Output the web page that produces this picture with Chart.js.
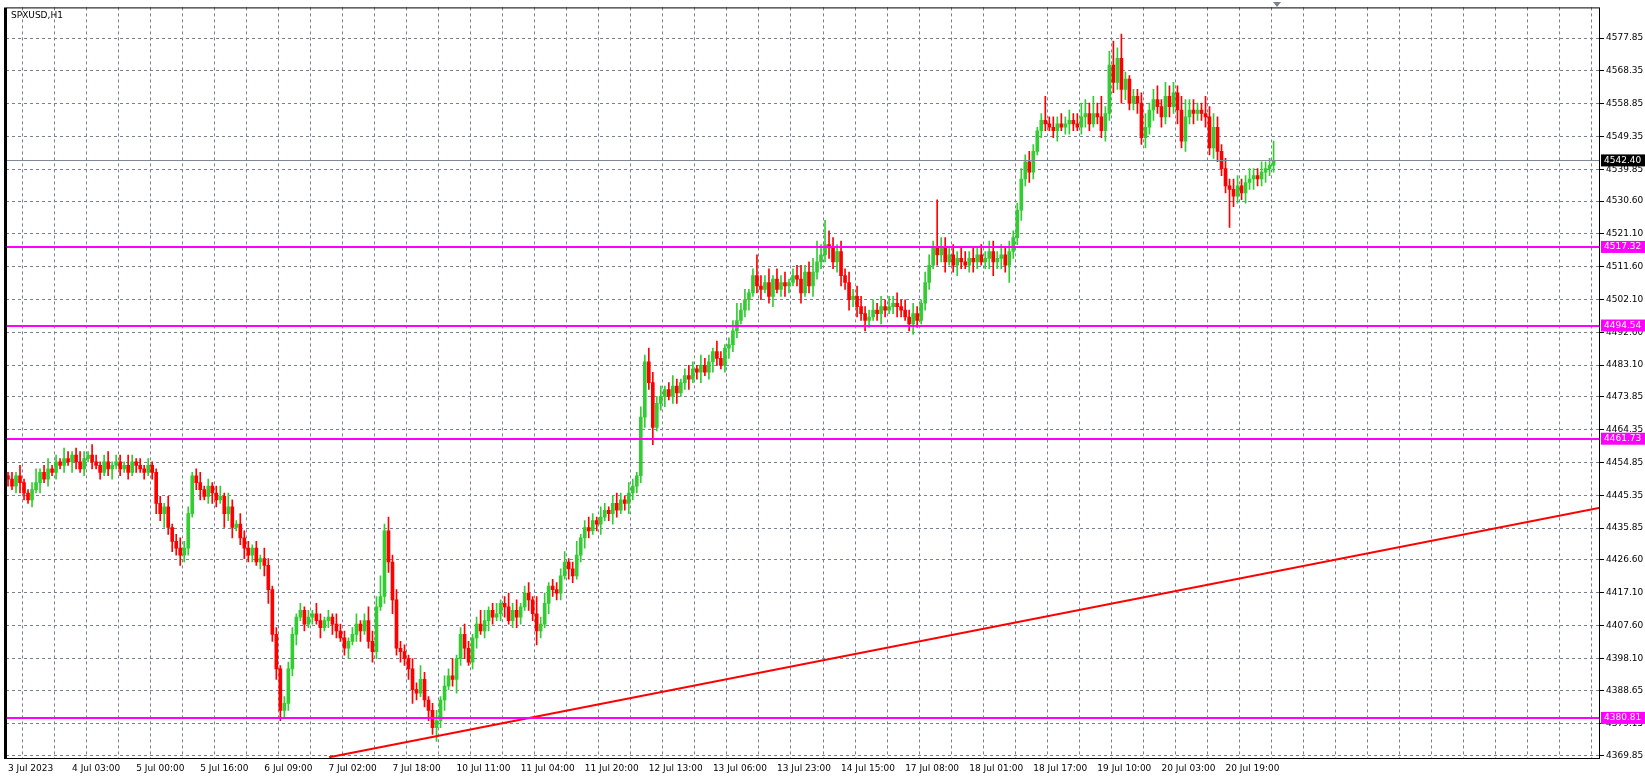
<!DOCTYPE html>
<html><head><meta charset="utf-8">
<script src="https://cdn.jsdelivr.net/npm/chart.js@4.4.0/dist/chart.umd.min.js"></script>
<style>html,body{margin:0;padding:0;background:#fff;}#wrap{width:1645px;height:779px;position:relative;}</style>
</head><body><div id="wrap"><canvas id="c" width="1645" height="779"></canvas></div>
<script>
const symbol = "SPXUSD,H1";
const firstOpen = 4451;
const closes = [4450,4448,4451,4449,4446,4444,4447,4449,4452,4450,4453,4452,4455,
4454,4456,4455,4457,4455,4453,4456,4457,4455,4454,4452,4455,4453,4454,4455,4453,4454,4452,4455,4454,4453,4452,4454,4452,
4443,4440,4442,4436,4432,4430,4428,4430,
4440,4451,4449,4447,4445,4448,4446,4444,4445,4440,4442,4436,4437,4433,4430,4428,
4430,4426,4427,4425,4418,4405,4395,4383,4385,4395,
4405,4410,4412,4408,4410,4411,4409,4407,4409,4410,4408,4406,4404,4401,4403,4405,4408,4406,4409,4403,4400,
4413,4416,4435,4426,4415,4401,4400,
4398,4395,4389,4388,4392,4386,4383,4378,4380,
4386,4390,4393,4392,4398,4405,4401,4397,4404,4408,4406,4409,4412,4410,
4411,4414,4413,4409,4412,4410,4413,4417,4415,4411,4406,4408,4414,4419,4418,4417,
4422,4426,4424,4422,4428,4433,4436,4435,4438,4437,4439,4441,4440,4443,4441,4444,4443,4446,4448,4451,
4468,4484,4478,4465,4472,4474,4476,4474,4477,4475,4478,4480,4479,4482,4481,4483,4481,4484,4487,4485,4483,4488,4489,4493,
4496,4499,4502,4504,4509,4506,4505,4507,4503,4508,4505,4507,4506,4507,4509,4508,4504,4510,4506,4510,4513,
4515,4518,4517,4513,4516,4509,4507,4502,4503,4500,4498,4496,
4497,4499,4498,4500,4499,4500,4501,4500,4499,4497,4495,4498,4496,4501,4507,
4512,4517,4515,4517,4513,4515,4512,4514,4513,4512,4514,4513,4515,4513,4514,4516,4513,4514,4515,4512,4516,4520,
4528,4537,4542,4539,4545,4551,4554,
4553,4552,4551,4553,4552,4553,4554,4553,4552,4555,4556,4553,4556,4555,
4551,4556,4570,4565,4572,4563,4566,4559,4561,
4559,4549,4552,4557,4560,4558,4555,4561,4558,4562,4557,4548,4555,4557,4556,4557,
4556,4555,4546,4552,4545,4540,4535,4534,4532,4535,4533,4536,4537,4538,4537,4539,4540,4541,4542.4];
const upWick = [1,2,1,3,1,1,2,4,1,2,3,1,2,1,3,2,1,2,3,2,1,3,2,1,2,3,1,2,2,1,3,2,1,2,1,2,1,
1,2,1,3,1,2,3,2, 2,1,2,3,1,2,1,2,3,1,4,2,1,3,2,2, 1,2,1,3,2,1,2,1,2,2,
2,1,2,1,2,1,3,2,1,2,1,3,2,2,1,2,3,1,2,4,3, 3,6,2,4,2,3,2, 2,1,3,2,4,2,1,2,3,
1,3,2,5,1,2,3,2,1,2,4,3,1,2, 3,1,2,4,2,3,1,2,3,1,5,2,3,1,2,2,
2,3,1,2,4,1,2,3,2,1,3,2,1,2,3,2,1,3,2,1,
3,2,4,3,2,3,1,2,3,2,1,2,3,2,1,3,2,2,1,3,2,1,2,3,
5,2,3,1,2,6,3,2,4,1,3,2,3,1,2,3,4,2,3,4,6,
3,7,4,3,2,3,2,3,2,3,3,2, 2,3,2,3,2,3,2,3,2,3,2,3,2,1,3,
3,2,14,3,3,2,3,2,3,3,2,3,2,3,2,3,3,2,3,2,3,2,
2,3,2,3,2,1,2, 7,2,3,2,3,2,3,2,3,4,4,3,5,3,
6,2,4,7,3,7,2,1,2, 2,3,4,2,3,4,2,4,3,3,2,4,5,3,3,2,
2,5,3,4,3,2,3,2,3,3,2,2,3,2,2,3,2,2,5.6];
const dnWick = [2,1,2,3,2,1,2,1,3,1,2,1,2,1,2,1,3,2,1,2,1,2,1,2,1,2,3,1,2,1,2,1,2,1,2,1,2,
3,2,4,2,3,2,3,2, 2,1,2,3,1,2,3,2,1,4,2,3,1,2,3,2, 2,1,2,3,4,2,3,3,2,2,
2,3,1,2,1,2,1,3,1,2,3,2,1,2,3,1,2,3,1,2,3, 2,1,2,3,4,2,3, 2,3,4,2,1,2,3,2,4,
2,3,1,2,4,2,3,1,2,3,1,2,3,2, 1,2,3,1,2,3,2,1,3,2,4,2,1,3,2,2,
2,1,3,2,1,2,3,2,1,2,3,1,2,3,2,1,2,3,2,2,
2,3,2,5,1,2,3,1,2,3,1,2,3,1,2,3,1,2,3,2,1,2,3,2,
2,1,2,3,1,2,3,1,2,3,1,2,3,2,1,2,3,1,2,3,2,
2,2,3,2,3,3,2,3,2,3,2,3, 2,1,2,3,2,1,2,3,2,1,2,3,2,1,2,
2,1,3,2,3,1,2,3,2,1,2,3,2,1,2,3,4,2,3,2,5,2,
2,3,2,3,2,1,2, 2,1,2,3,1,2,3,2,1,2,3,2,1,2,
2,3,2,3,2,4,3,2,2, 3,2,3,2,3,2,3,2,3,2,4,2,3,2,3,2,
2,3,2,3,3,2,2,11,3,2,2,3,2,3,2,2,3,2,2];
const timeLabels = ["3 Jul 2023","4 Jul 03:00","5 Jul 00:00","5 Jul 16:00","6 Jul 09:00","7 Jul 02:00","7 Jul 18:00","10 Jul 11:00","11 Jul 04:00","11 Jul 20:00","12 Jul 13:00","13 Jul 06:00","13 Jul 23:00","14 Jul 15:00","17 Jul 08:00","18 Jul 01:00","18 Jul 17:00","19 Jul 10:00","20 Jul 03:00","20 Jul 19:00"];
const priceTicks = [4577.85,4568.35,4558.85,4549.35,4539.85,4530.60,4521.10,4511.60,4502.10,4492.60,4483.10,4473.85,4464.35,4454.85,4445.35,4435.85,4426.60,4417.10,4407.60,4398.10,4388.65,4379.15,4369.85];
const levels = [4517.32,4494.54,4461.73,4380.81];
const lastPrice = 4542.40;
const trendX = [80.2,397.5];
const trendY = [4369.4,4441.7];

const N = 398;
const opens = closes.map((c,i)=> i===0 ? firstOpen : closes[i-1]);
const wicks=[], bodies=[], colors=[];
closes.forEach((c,i)=>{
  const o=opens[i];
  const hi=Math.max(o,c)+upWick[i], lo=Math.min(o,c)-dnWick[i];
  wicks.push({x:i,y:[lo,hi]});
  bodies.push({x:i,y: o===c?[o-0.15,c+0.15]:[o,c]});
  colors.push(c>o?'#32CD32':(c<o?'#FF0000':'#7CFC00'));
});
const gridX=[]; for(let k=0;k<50;k++) gridX.push(7.5+8*k);
const labelX = timeLabels.map((t,i)=>i*16);

const font = {family:'"DejaVu Sans", sans-serif', size:9};
const overlay = {
  id:'overlay',
  afterDatasetsDraw(ch){
    const {ctx,chartArea:a,scales:{y}}=ch;
    ctx.save();
    ctx.strokeStyle='#808896'; ctx.lineWidth=1;
    const ly=Math.round(y.getPixelForValue(lastPrice))+0.5;
    ctx.beginPath(); ctx.moveTo(a.left,ly); ctx.lineTo(a.right,ly); ctx.stroke();
    ctx.strokeStyle='#FF00FF'; ctx.lineWidth=2;
    levels.forEach(v=>{const py=Math.round(y.getPixelForValue(v));ctx.beginPath();ctx.moveTo(a.left,py);ctx.lineTo(a.right,py);ctx.stroke();});
    ctx.strokeStyle='#000'; ctx.lineWidth=1;
    ctx.strokeRect(a.left+0.5,a.top+0.5,a.width-1,a.height-1);
    ctx.lineWidth=2; ctx.beginPath(); ctx.moveTo(a.left-1,a.top); ctx.lineTo(a.left-1,a.bottom); ctx.stroke();
    ctx.font='9px "DejaVu Sans", sans-serif'; ctx.textBaseline='middle';
    const box=(v,bg)=>{const py=y.getPixelForValue(v);ctx.fillStyle=bg;ctx.fillRect(a.right+1,py-6,44,12);ctx.fillStyle='#fff';ctx.fillText(v.toFixed(2),a.right+4,py);};
    levels.forEach(v=>box(v,'#FF00FF'));
    box(lastPrice,'#000');
    ctx.fillStyle='#000'; ctx.textBaseline='top'; ctx.fillText(symbol,a.left+5,a.top+4);
    ctx.fillStyle='#7a8290'; ctx.beginPath(); ctx.moveTo(1273,2); ctx.lineTo(1281,2); ctx.lineTo(1277,7); ctx.fill();
    ctx.restore();
  }
};
new Chart(document.getElementById('c'),{
  data:{datasets:[
    {type:'line',data:trendX.map((x,i)=>({x,y:trendY[i]})),borderColor:'#FF0000',borderWidth:2,pointRadius:0,order:0},
    {type:'bar',data:wicks,backgroundColor:colors,barThickness:1,grouped:false,order:2},
    {type:'bar',data:bodies,backgroundColor:colors,barThickness:3,grouped:false,order:1}
  ]},
  options:{responsive:false,animation:false,devicePixelRatio:1,
    layout:{padding:{left:6,top:4,right:0,bottom:4}},
    plugins:{legend:{display:false},tooltip:{enabled:false}},
    scales:{
      x:{type:'linear',min:-0.5,max:N-0.5,offset:false,
        afterBuildTicks:s=>{s.ticks=gridX.map(v=>({value:v}));},
        grid:{color:'#76808e',lineWidth:1,drawTicks:false},
        border:{display:false,dash:[3,3]},
        ticks:{display:false}},
      x2:{type:'linear',position:'bottom',min:-0.5,max:N-0.5,
        afterBuildTicks:s=>{s.ticks=labelX.map(v=>({value:v}));},
        afterFit:s=>{s.height=16;},
        grid:{display:false,drawOnChartArea:false,drawTicks:true,tickLength:3,color:'#000'},
        border:{display:false},
        ticks:{align:'start',maxRotation:0,autoSkip:false,padding:1,color:'#000',font,callback:(v,i)=>timeLabels[i]}},
      y:{position:'right',min:4368.9,max:4586.75,
        afterBuildTicks:s=>{s.ticks=priceTicks.map(v=>({value:v}));},
        afterFit:s=>{s.width=45;},
        grid:{color:'#76808e',drawTicks:true,tickLength:4,tickColor:'#000',tickBorderDash:[]},
        border:{display:false,dash:[3,3]},
        ticks:{color:'#000',font,padding:2,callback:v=>v.toFixed(2)}}
    }
  },
  plugins:[overlay]
});
</script></body></html>
